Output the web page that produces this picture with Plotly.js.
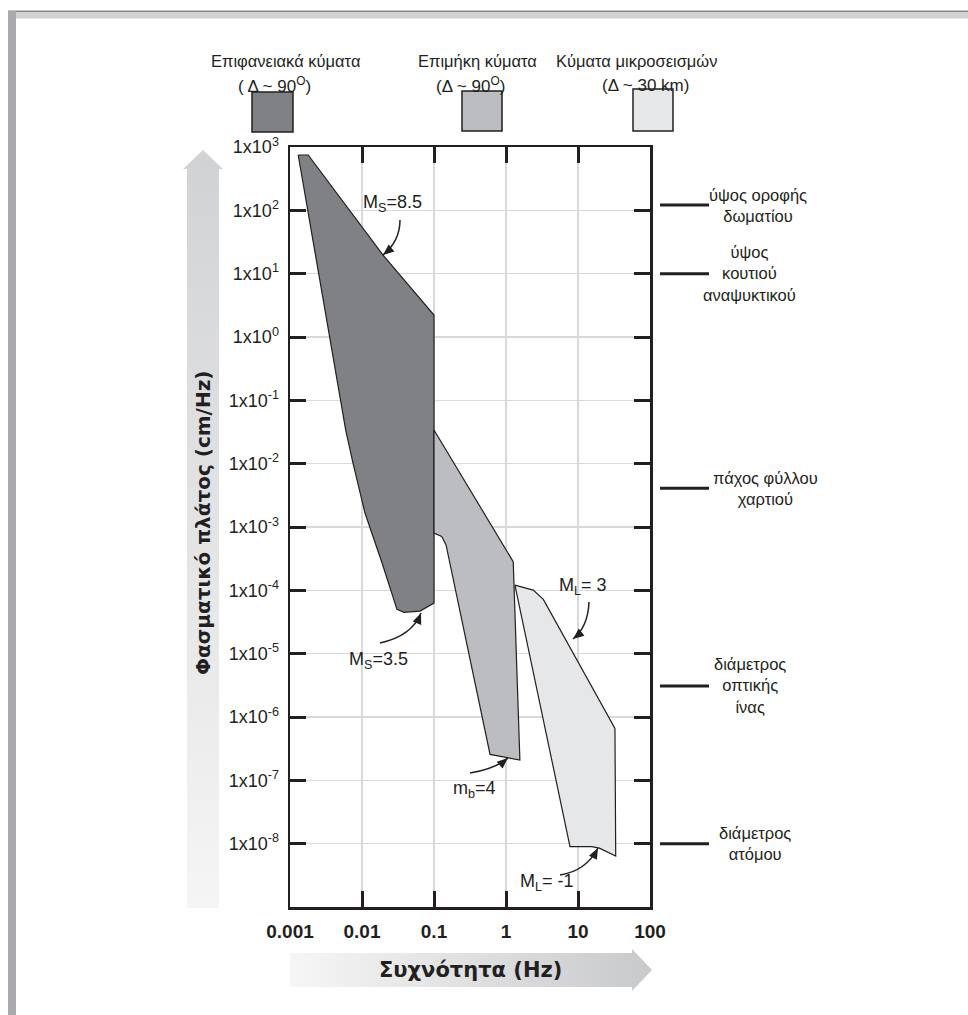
<!DOCTYPE html>
<html>
<head>
<meta charset="utf-8">
<script src="https://cdn.plot.ly/plotly-3.0.1.min.js"></script>
<style>html,body{margin:0;padding:0;background:#fff}#chart{width:968px;height:1015px}</style>
</head>
<body>
<div id="chart"></div>
<script>
// ---------------- data ----------------
const surfaceX = [0.0013, 0.00179, 0.0196, 0.1, 0.1, 0.064, 0.0383, 0.0306, 0.019, 0.011, 0.0075, 0.00594];
const surfaceY = [748, 748, 19.7, 2.22, 6.3e-5, 4.7e-5, 4.5e-5, 5.0e-5, 2.7e-4, 1.66e-3, 0.0102, 0.034];

const bodyX = [0.1, 1.26, 1.56, 0.6, 0.147, 0.128, 0.1];
const bodyY = [0.034, 2.83e-4, 2.09e-7, 2.57e-7, 5.2e-4, 7.1e-4, 8.0e-4];

const microX = [1.33, 2.39, 3.3, 32.6, 33.4, 19.8, 15.5, 11.2, 7.74];
const microY = [1.21e-4, 1.01e-4, 7.2e-5, 6.6e-7, 6.4e-9, 8.5e-9, 9.0e-9, 9.0e-9, 9.0e-9];

const seriesNames = ['Επιφανειακά κύματα', 'Επιμήκη κύματα', 'Κύματα μικροσεισμών'];
const seriesSub = ['( Δ ~ 90<sup>O</sup>)', '(Δ ~ 90<sup>O</sup>)', '(Δ ~ 30 km)'];
const seriesColors = ['#808184', '#bcbdc0', '#e6e7e8'];

const xTickVals = [0.001, 0.01, 0.1, 1, 10, 100];
const xTickText = ['0.001', '0.01', '0.1', '1', '10', '100'];
const yExponents = [3, 2, 1, 0, -1, -2, -3, -4, -5, -6, -7, -8];
const yTickVals = yExponents.map(e => Math.pow(10, e));
const yTickText = yExponents.map(e => '1x10<sup>' + e + '</sup>');

const refValues = [121, 10, 0.0041, 3.1e-6, 1e-8];
const refLabels = [
  ['ύψος οροφής', 'δωματίου'],
  ['ύψος', 'κουτιού', 'αναψυκτικού'],
  ['πάχος φύλλου', 'χαρτιού'],
  ['διάμετρος', 'οπτικής', 'ίνας'],
  ['διάμετρος', 'ατόμου']
];
const magLabels = ['M<sub>S</sub>=8.5', 'M<sub>S</sub>=3.5', 'M<sub>L</sub>= 3', 'm<sub>b</sub>=4', 'M<sub>L</sub>= -1'];

const xTitle = 'Συχνότητα (Hz)';
const yTitle = 'Φασματικό πλάτος (cm/Hz)';

// ---------------- layout helpers ----------------
const PL = 290, PR = 650, PT = 147, PB = 907;
const PW = PR - PL, PH = PB - PT;
const X = px => (px - PL) / PW;          // pixel -> paper x
const Y = py => (PB - py) / PH;          // pixel -> paper y
const yLogPaper = v => (Math.log10(v) + 9) / 12;

const SANS = 'Liberation Sans, Arial, sans-serif';
const BOLD = 'DejaVu Sans, Verdana, sans-serif';

const shapes = [];
const annotations = [];
const images = [];

// frame
shapes.push({type:'rect', xref:'paper', yref:'paper', x0:X(8), x1:X(968), y0:Y(18.5), y1:Y(11), fillcolor:'#d2d2d4', line:{width:0}, layer:'above'});
shapes.push({type:'rect', xref:'paper', yref:'paper', x0:X(8), x1:X(968), y0:Y(12), y1:Y(10.5), fillcolor:'#8a8a8c', line:{width:0}, layer:'above'});
shapes.push({type:'rect', xref:'paper', yref:'paper', x0:X(8), x1:X(16), y0:Y(1015), y1:Y(11), fillcolor:'#a9aaae', line:{width:0}, layer:'above'});

// gradient arrows (axis titles background)
function svgURI(svg){ return 'data:image/svg+xml;charset=utf-8,' + encodeURIComponent(svg); }
const yArrowSvg = '<svg xmlns="http://www.w3.org/2000/svg" width="40" height="758" viewBox="0 0 40 758" preserveAspectRatio="none">' +
  '<defs><linearGradient id="g" x1="0" y1="0" x2="0" y2="1"><stop offset="0" stop-color="#d1d2d4"/><stop offset="1" stop-color="#f5f5f5"/></linearGradient></defs>' +
  '<polygon points="20,0 40,19 36,19 36,758 4,758 4,19 0,19" fill="url(#g)"/></svg>';
const xArrowSvg = '<svg xmlns="http://www.w3.org/2000/svg" width="362" height="42" viewBox="0 0 362 42" preserveAspectRatio="none">' +
  '<defs><linearGradient id="h" x1="0" y1="0" x2="1" y2="0"><stop offset="0" stop-color="#f6f6f6"/><stop offset="1" stop-color="#c8c9cb"/></linearGradient></defs>' +
  '<polygon points="0,4 342,4 342,0 362,21 342,42 342,38 0,38" fill="url(#h)"/></svg>';
images.push({source:svgURI(yArrowSvg), xref:'paper', yref:'paper', x:X(183), y:Y(150), sizex:40/PW, sizey:758/PH, xanchor:'left', yanchor:'top', sizing:'stretch', layer:'below'});
images.push({source:svgURI(xArrowSvg), xref:'paper', yref:'paper', x:X(290), y:Y(949), sizex:362/PW, sizey:42/PH, xanchor:'left', yanchor:'top', sizing:'stretch', layer:'below'});

annotations.push({text:yTitle, xref:'paper', yref:'paper', x:X(203), y:Y(523), textangle:-90, showarrow:false,
  font:{family:BOLD, size:20, weight:'bold', color:'#231f20'}, xanchor:'center', yanchor:'middle'});
annotations.push({text:xTitle, xref:'paper', yref:'paper', x:X(470), y:Y(970), showarrow:false,
  font:{family:BOLD, size:21, weight:'bold', color:'#231f20'}, xanchor:'center', yanchor:'middle'});

// legend boxes
const legendBoxes = [[252,293,92,132],[462,502,91,131],[633,673,89,131]];
const legendText1 = [286, 477, 637];
const legendText2 = [274, 470, 645];
seriesNames.forEach((n,i) => {
  const b = legendBoxes[i];
  shapes.push({type:'rect', xref:'paper', yref:'paper', x0:X(b[0]), x1:X(b[1]), y0:Y(b[3]), y1:Y(b[2]), fillcolor:seriesColors[i], line:{color:'#231f20', width:1.5}});
  annotations.push({text:n, xref:'paper', yref:'paper', x:X(legendText1[i]), y:Y(61), showarrow:false, xanchor:'center', yanchor:'middle', font:{family:SANS, size:16.5, color:'#231f20'}});
  annotations.push({text:seriesSub[i], xref:'paper', yref:'paper', x:X(legendText2[i]), y:Y(85), showarrow:false, xanchor:'center', yanchor:'middle', font:{family:SANS, size:17, color:'#231f20'}});
});

// right-hand reference marks
const refTextX = [758, 749, 765, 750, 755];
refValues.forEach((v,i) => {
  const yp = yLogPaper(v);
  shapes.push({type:'line', xref:'paper', yref:'paper', x0:X(660), x1:X(709), y0:yp, y1:yp, line:{color:'#231f20', width:3}});
  annotations.push({text:refLabels[i].join('<br>'), xref:'paper', yref:'paper', x:X(refTextX[i]), y:yp, showarrow:false,
    xanchor:'center', yanchor:'middle', align:'center', font:{family:SANS, size:16.5, color:'#231f20'}});
});

// magnitude labels with curved arrows (pixel geometry)
const magPos = [[392,204],[378,660],[583,586],[474,789],[547,882]];
const arrows = [
  [[400,220],[400,241],[383,255]],
  [[380,643],[412,636],[421,613]],
  [[589,602],[588,627],[573,639]],
  [[470,773],[495,769],[508,758]],
  [[560,875],[586,871],[598,848]]
];
magLabels.forEach((t,i) => {
  annotations.push({text:t, xref:'paper', yref:'paper', x:X(magPos[i][0]), y:Y(magPos[i][1]), showarrow:false,
    xanchor:'center', yanchor:'middle', font:{family:SANS, size:18, color:'#231f20'}});
  const [s,c,e] = arrows[i];
  shapes.push({type:'path', xref:'paper', yref:'paper',
    path:`M${X(s[0])},${Y(s[1])} Q${X(c[0])},${Y(c[1])} ${X(e[0])},${Y(e[1])}`,
    line:{color:'#231f20', width:1.5}});
  let dx = e[0]-c[0], dy = e[1]-c[1];
  const len = Math.hypot(dx,dy); dx/=len; dy/=len;
  const bx = e[0]-dx*11, by = e[1]-dy*11;
  const nx = -dy*4.5, ny = dx*4.5;
  shapes.push({type:'path', xref:'paper', yref:'paper',
    path:`M${X(e[0])},${Y(e[1])} L${X(bx+nx)},${Y(by+ny)} L${X(bx-nx)},${Y(by-ny)} Z`,
    fillcolor:'#231f20', line:{width:0}});
});

// ---------------- traces ----------------
function poly(xs, ys, color){
  return {x:xs.concat([xs[0]]), y:ys.concat([ys[0]]), type:'scatter', mode:'lines', fill:'toself',
    fillcolor:color, line:{color:'#231f20', width:1.2}, hoverinfo:'skip', showlegend:false};
}
const data = [
  poly(surfaceX, surfaceY, seriesColors[0]),
  poly(bodyX, bodyY, seriesColors[1]),
  poly(microX, microY, seriesColors[2])
];

const axisCommon = {ticks:'inside', ticklen:16, tickwidth:3, tickcolor:'#231f20', showline:true, linewidth:2.5,
  linecolor:'#231f20', mirror:'ticks', showgrid:true, gridcolor:'#d9d9db', gridwidth:1.5, zeroline:false};

const layout = {
  width:968, height:1015, autosize:false,
  margin:{l:PL, r:968-PR, t:PT, b:1015-PB, pad:0},
  paper_bgcolor:'#ffffff', plot_bgcolor:'#ffffff',
  showlegend:false,
  xaxis:Object.assign({}, axisCommon, {type:'log', range:[-3,2], tickmode:'array', tickvals:xTickVals, ticktext:xTickText,
    tickfont:{family:SANS, size:19, weight:'bold', color:'#231f20'}, ticklabelstandoff:6}),
  yaxis:Object.assign({}, axisCommon, {type:'log', range:[-9,3], tickmode:'array', tickvals:yTickVals, ticktext:yTickText,
    tickfont:{family:SANS, size:18, color:'#231f20'}, ticklabelstandoff:5}),
  shapes:shapes, annotations:annotations, images:images
};

Plotly.newPlot('chart', data, layout, {staticPlot:true, displayModeBar:false});
</script>
</body>
</html>
